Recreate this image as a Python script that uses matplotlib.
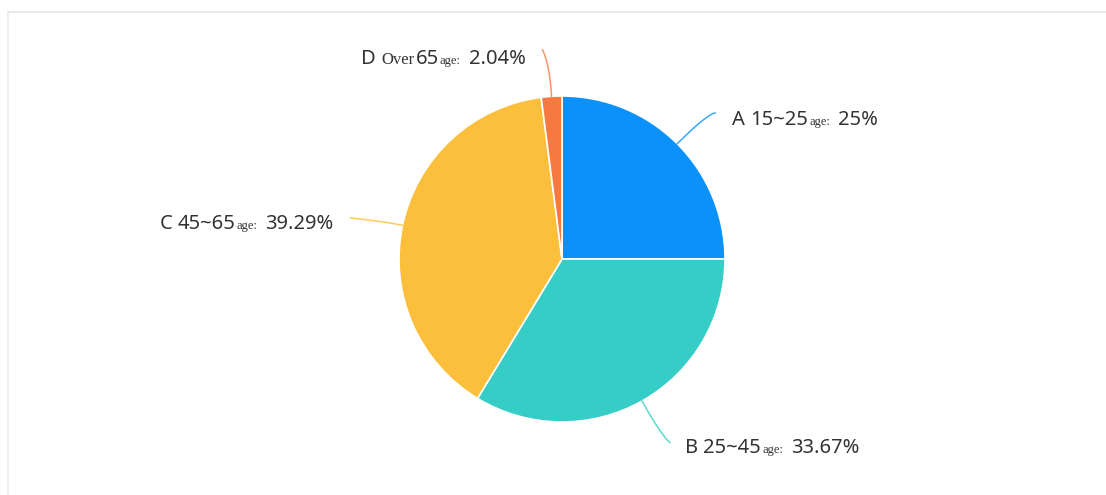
import numpy as np
import matplotlib
matplotlib.use("Agg")
import matplotlib.pyplot as plt

# ---- data ----
categories = ["A", "B", "C", "D"]
ranges = ["15~25", "25~45", "45~65", "65"]
prefixes = ["", "", "", "Over"]
percent_labels = ["25%", "33.67%", "39.29%", "2.04%"]
values = [25.0, 33.67, 39.29, 2.04]
colors = ["#0a92fa", "#36cdc7", "#fbbf3b", "#f57a42"]

W, H = 1106, 495
fig = plt.figure(figsize=(W / 100, H / 100), dpi=100)
ax = fig.add_axes([0, 0, 1, 1])


def Y(py):
    return H - py


# faint frame like the screenshot
ax.plot([8, W], [Y(12), Y(12)], color="#e6e6e6", lw=1.2, zorder=0)
ax.plot([8, 8], [Y(12), 0], color="#ececec", lw=1.2, zorder=0)

cx, cy, r = 562, 259, 163
wedges, _ = ax.pie(values, colors=colors, startangle=90, counterclock=False,
                   center=(cx, Y(cy)), radius=r, frame=True,
                   wedgeprops=dict(edgecolor="white", linewidth=1.2))
ax.set_xlim(0, W)
ax.set_ylim(0, H)
ax.set_aspect("equal")
ax.axis("off")

fig.canvas.draw()
renderer = fig.canvas.get_renderer()

sans = ["Noto Sans", "DejaVu Sans"]
serif = ["Liberation Serif", "DejaVu Serif"]
txt_color = "#333333"


def draw_parts(x, y, parts, ha="left"):
    items = []
    total = 0
    for s, size, fam, gap in parts:
        t = ax.text(0, 0, s, fontsize=size, family=fam, color=txt_color,
                    va="baseline", ha="left")
        bb = t.get_window_extent(renderer=renderer)
        items.append((t, bb.width, gap))
        total += bb.width + gap
    start = x if ha == "left" else x - total
    pos = start
    for t, wdt, gap in items:
        t.set_position((pos, y))
        pos += wdt + gap


cum = np.cumsum([0] + values[:-1])
total_v = sum(values)
# leader layout: control radius factor, end offset from control, text offset from end
layout = {
    "A": dict(k=1.25, end=(9, -2), ha="left", tx=17, ty=12),
    "B": dict(k=1.25, end=(8, 6), ha="left", tx=15, ty=10),
    "C": dict(k=1.10, end=(-36, -4), ha="right", tx=-17, ty=11),
    "D": dict(k=1.20, end=(-7, -14), ha="right", tx=-17, ty=14),
}
for i, cat in enumerate(categories):
    mid = 90 - (cum[i] + values[i] / 2) / total_v * 360
    th = np.deg2rad(mid)
    L = layout[cat]
    x0, y0 = cx + r * np.cos(th), cy - r * np.sin(th)
    x1, y1 = cx + L["k"] * r * np.cos(th), cy - L["k"] * r * np.sin(th)
    x2, y2 = x1 + L["end"][0], y1 + L["end"][1]
    t = np.linspace(0, 1, 40)
    bx = (1 - t) ** 2 * x0 + 2 * (1 - t) * t * x1 + t ** 2 * x2
    by = (1 - t) ** 2 * y0 + 2 * (1 - t) * t * y1 + t ** 2 * y2
    ax.plot(bx, Y(by), color=colors[i], lw=1.1, alpha=0.8)

    parts = [(cat + " ", 14.5, sans, 0)]
    if prefixes[i]:
        parts.append((prefixes[i], 12, serif, 1))
    parts += [(ranges[i], 14.5, sans, 1), ("age:", 9, serif, 8),
              (percent_labels[i], 14.5, sans, 0)]
    draw_parts(x2 + L["tx"], Y(y2 + L["ty"]), parts, ha=L["ha"])

fig.savefig("out.png", dpi=100, facecolor="white")
